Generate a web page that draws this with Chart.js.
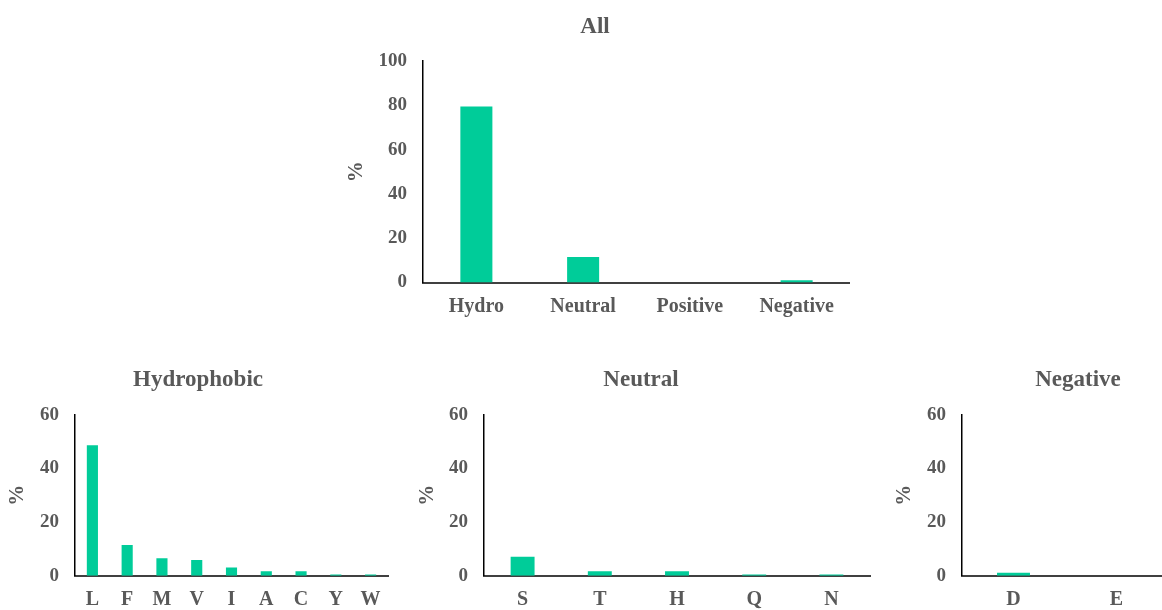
<!DOCTYPE html>
<html>
<head>
<meta charset="utf-8">
<script src="https://cdn.jsdelivr.net/npm/chart.js@4.4.1/dist/chart.umd.min.js"></script>
<style>
  html, body { margin: 0; padding: 0; background: #ffffff; overflow: hidden; width: 1162px; height: 610px; }
  .box { position: absolute; }
</style>
</head>
<body>
<div class="box" style="left:340px; top:0px; width:510px; height:330px;"><canvas id="c0"></canvas></div>
<div class="box" style="left:0px; top:350px; width:396px; height:260px;"><canvas id="c1"></canvas></div>
<div class="box" style="left:410px; top:350px; width:462px; height:260px;"><canvas id="c2"></canvas></div>
<div class="box" style="left:880px; top:350px; width:396px; height:260px;"><canvas id="c3"></canvas></div>
<script>
// ---- data ----
const allCategories = ["Hydro", "Neutral", "Positive", "Negative"];
const allValues = [79.5, 11.5, 0, 1.0];

const hydroCategories = ["L", "F", "M", "V", "I", "A", "C", "Y", "W"];
const hydroValues = [48.7, 11.5, 6.5, 5.9, 3.1, 1.7, 1.7, 0.45, 0.45];

const neutralCategories = ["S", "T", "H", "Q", "N"];
const neutralValues = [7.1, 1.7, 1.7, 0.45, 0.45];

const negativeCategories = ["D", "E"];
const negativeValues = [1.1, 0];

// ---- styling ----
Chart.defaults.font.family = "'Liberation Serif', 'Times New Roman', serif";
Chart.defaults.font.weight = 'bold';
Chart.defaults.color = '#595959';

const BAR = '#00CC99';
const TXT = '#595959';

function makeChart(id, title, cats, vals, ymax, step, cfg) {
  const ctx = document.getElementById(id);
  return new Chart(ctx, {
    type: 'bar',
    data: {
      labels: cats,
      datasets: [{
        data: vals,
        backgroundColor: BAR,
        borderWidth: 0,
        categoryPercentage: 1.0,
        barPercentage: cfg.bar,
        yAxisID: 'y'
      }]
    },
    options: {
      responsive: true,
      maintainAspectRatio: false,
      animation: false,
      layout: { padding: 0 },
      plugins: {
        legend: { display: false },
        tooltip: { enabled: false },
        title: {
          display: true,
          text: title,
          color: TXT,
          font: { size: 23, weight: 'bold' },
          padding: { top: cfg.titleTop, bottom: cfg.titleBottom }
        }
      },
      scales: {
        x: {
          grid: { display: false, drawTicks: false },
          border: { display: true, color: '#404040', width: 2 },
          ticks: { color: TXT, font: { size: 20, weight: 'bold' }, padding: cfg.xPad, maxRotation: 0, autoSkip: false },
          afterFit: (s) => { s.height = cfg.xHeight; }
        },
        y: {
          min: 0,
          max: ymax,
          grid: { display: false, drawTicks: false },
          border: { display: true, color: '#000000', width: 1.5 },
          ticks: { stepSize: step, color: TXT, font: { size: 19, weight: 'bold' }, padding: 16 },
          title: {
            display: true,
            text: '%',
            color: TXT,
            font: { size: 21, weight: 'bold' },
            padding: { top: cfg.yTitlePad, bottom: 0 }
          },
          afterFit: (s) => { s.width = cfg.yWidth; }
        },
        yr: {
          type: 'linear',
          position: 'right',
          display: true,
          grid: { display: false, drawTicks: false },
          border: { display: false },
          ticks: { display: false },
          afterFit: (s) => { s.width = cfg.padRight; }
        }
      }
    }
  });
}

makeChart('c0', 'All', allCategories, allValues, 100, 20, {
  bar: 0.30, padRight: 0, titleTop: 13.2, titleBottom: 20.2, xHeight: 47.5, xPad: 12, yWidth: 83, yTitlePad: 4.4
});
makeChart('c1', 'Hydrophobic', hydroCategories, hydroValues, 60, 20, {
  bar: 0.32, padRight: 8, titleTop: 16.2, titleBottom: 21.2, xHeight: 34.3, xPad: 12, yWidth: 75, yTitlePad: 5.4
});
makeChart('c2', 'Neutral', neutralCategories, neutralValues, 60, 20, {
  bar: 0.31, padRight: 2, titleTop: 16.2, titleBottom: 21.2, xHeight: 34.3, xPad: 12, yWidth: 74, yTitlePad: 4.9
});
makeChart('c3', 'Negative', negativeCategories, negativeValues, 60, 20, {
  bar: 0.32, padRight: 108, titleTop: 16.2, titleBottom: 21.2, xHeight: 34.3, xPad: 12, yWidth: 82, yTitlePad: 12.4
});
</script>
</body>
</html>
